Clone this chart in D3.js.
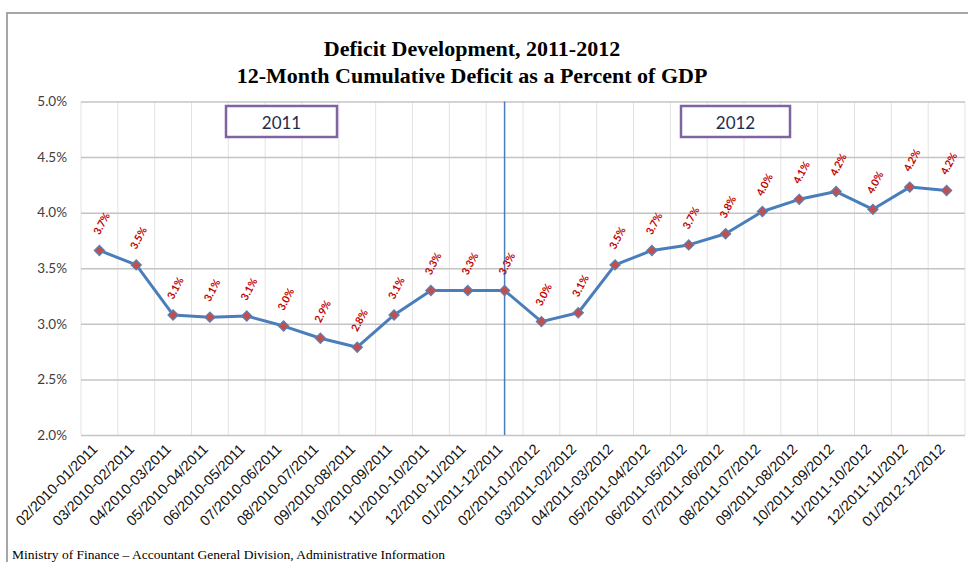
<!DOCTYPE html>
<html>
<head>
<meta charset="utf-8">
<script src="https://cdn.jsdelivr.net/npm/d3@7"></script>
<style>
  html, body { margin: 0; padding: 0; background: #fff; }
  svg { display: block; }
</style>
</head>
<body>
<svg id="chart" width="968" height="562"></svg>
<script>
// 12-month rolling windows
const categories = [
  "02/2010-01/2011", "03/2010-02/2011", "04/2010-03/2011", "05/2010-04/2011",
  "06/2010-05/2011", "07/2010-06/2011", "08/2010-07/2011", "09/2010-08/2011",
  "10/2010-09/2011", "11/2010-10/2011", "12/2010-11/2011", "01/2011-12/2011",
  "02/2011-01/2012", "03/2011-02/2012", "04/2011-03/2012", "05/2011-04/2012",
  "06/2011-05/2012", "07/2011-06/2012", "08/2011-07/2012", "09/2011-08/2012",
  "10/2011-09/2012", "11/2011-10/2012", "12/2011-11/2012", "01/2012-12/2012"
];

// Cumulative deficit, % of GDP
const deficit = [
  3.66, 3.53, 3.08, 3.06, 3.07, 2.98, 2.87, 2.79,
  3.08, 3.30, 3.30, 3.30, 3.02, 3.10, 3.53, 3.66,
  3.71, 3.81, 4.01, 4.12, 4.19, 4.03, 4.23, 4.20
];

const yTicks = [2.0, 2.5, 3.0, 3.5, 4.0, 4.5, 5.0];
const yearLabels = ["2011", "2012"];
const dividerCategory = "01/2011-12/2011";

const titleLines = [
  "Deficit Development, 2011-2012",
  "12-Month Cumulative Deficit as a Percent of GDP"
];
const sourceNote = "Ministry of Finance \u2013 Accountant General Division, Administrative Information";

const svg = d3.select("#chart");
const plot = { left: 81, right: 965, top: 101.5, bottom: 435 };

const x = d3.scaleBand().domain(categories).range([plot.left, plot.right]).padding(0);
const y = d3.scaleLinear().domain([2, 5]).range([plot.bottom, plot.top]);
const cx = d => x(d) + x.bandwidth() / 2;

// outer frame
svg.append("rect")
  .attr("x", 7).attr("y", 13).attr("width", 980).attr("height", 580)
  .attr("fill", "#fff").attr("stroke", "#a6a6a6").attr("stroke-width", 2);

// titles
svg.append("g").selectAll("text").data(titleLines).join("text")
  .attr("x", 472).attr("y", (d, i) => 56 + i * 27)
  .attr("text-anchor", "middle")
  .attr("font-family", "'Liberation Serif', 'Times New Roman', serif")
  .attr("font-weight", "bold").attr("font-size", 22)
  .attr("fill", "#000")
  .text(d => d);

// vertical gridlines at category boundaries
const bounds = categories.map(c => x(c)).concat([plot.right]);
svg.append("g").selectAll("line").data(bounds).join("line")
  .attr("x1", d => d).attr("x2", d => d)
  .attr("y1", plot.top).attr("y2", plot.bottom)
  .attr("stroke", "#e3e3e3").attr("stroke-width", 1);

// y axis with horizontal gridlines
const yAxis = svg.append("g")
  .attr("transform", `translate(${plot.left},0)`)
  .call(d3.axisLeft(y).tickValues(yTicks)
    .tickSize(-(plot.right - plot.left))
    .tickPadding(14)
    .tickFormat(d => d.toFixed(1) + "%"));
yAxis.select(".domain").remove();
yAxis.selectAll(".tick line").attr("stroke", "#c4c4c4").attr("stroke-width", 1.5);
yAxis.selectAll(".tick text")
  .attr("font-family", "Lato, 'Open Sans', sans-serif")
  .attr("font-size", 13.5).attr("fill", "#404040");

// x axis labels
const xAxis = svg.append("g")
  .attr("transform", `translate(0,${plot.bottom})`)
  .call(d3.axisBottom(x).tickSize(0).tickPadding(0));
xAxis.select(".domain").remove();
xAxis.selectAll(".tick text")
  .attr("font-family", "'Liberation Sans', Arial, sans-serif")
  .attr("font-size", 14.5).attr("fill", "#111")
  .attr("text-anchor", "end")
  .attr("dy", 0).attr("y", 0)
  .attr("transform", "translate(-1,15) rotate(-45)");

// year divider
svg.append("line")
  .attr("x1", cx(dividerCategory)).attr("x2", cx(dividerCategory))
  .attr("y1", plot.top).attr("y2", plot.bottom)
  .attr("stroke", "#4a7ebb").attr("stroke-width", 1.5);

// year boxes
const boxes = [
  { label: yearLabels[0], x0: 226, x1: 337 },
  { label: yearLabels[1], x0: 681, x1: 790 }
];
const boxG = svg.append("g").selectAll("g").data(boxes).join("g");
boxG.append("rect")
  .attr("x", d => d.x0).attr("y", 106)
  .attr("width", d => d.x1 - d.x0).attr("height", 31)
  .attr("fill", "#fff").attr("stroke", "#8064a2").attr("stroke-width", 2.5);
boxG.append("text")
  .attr("x", d => (d.x0 + d.x1) / 2).attr("y", 122)
  .attr("text-anchor", "middle").attr("dominant-baseline", "central")
  .attr("font-family", "Lato, 'Open Sans', sans-serif")
  .attr("font-size", 17).attr("fill", "#1f2d4d")
  .text(d => d.label);

// deficit line
const line = d3.line().x((d, i) => cx(categories[i])).y(d => y(d));
svg.append("path")
  .datum(deficit)
  .attr("d", line)
  .attr("fill", "none").attr("stroke", "#4a7ebb").attr("stroke-width", 3)
  .attr("stroke-linejoin", "round");

// diamond markers (squares turned 45 degrees)
svg.append("g").selectAll("path").data(deficit).join("path")
  .attr("d", d3.symbol(d3.symbolSquare, 52))
  .attr("transform", (d, i) => `translate(${cx(categories[i])},${y(d)}) rotate(45)`)
  .attr("fill", "#c0504d").attr("stroke", "#5b7fb5").attr("stroke-width", 1.2);

// value labels
svg.append("g").selectAll("text").data(deficit).join("text")
  .attr("transform", (d, i) => `translate(${cx(categories[i]) + 2},${y(d) - 27}) rotate(-62)`)
  .attr("text-anchor", "middle").attr("dominant-baseline", "central")
  .attr("font-family", "Lato, 'Open Sans', sans-serif")
  .attr("font-weight", "bold").attr("font-size", 10.5)
  .attr("fill", "#c00000")
  .text(d => d.toFixed(1) + "%");

// source note
svg.append("text")
  .attr("x", 12).attr("y", 559)
  .attr("font-family", "'Liberation Serif', 'Times New Roman', serif")
  .attr("font-size", 13.5).attr("fill", "#000")
  .text(sourceNote);
</script>
</body>
</html>
